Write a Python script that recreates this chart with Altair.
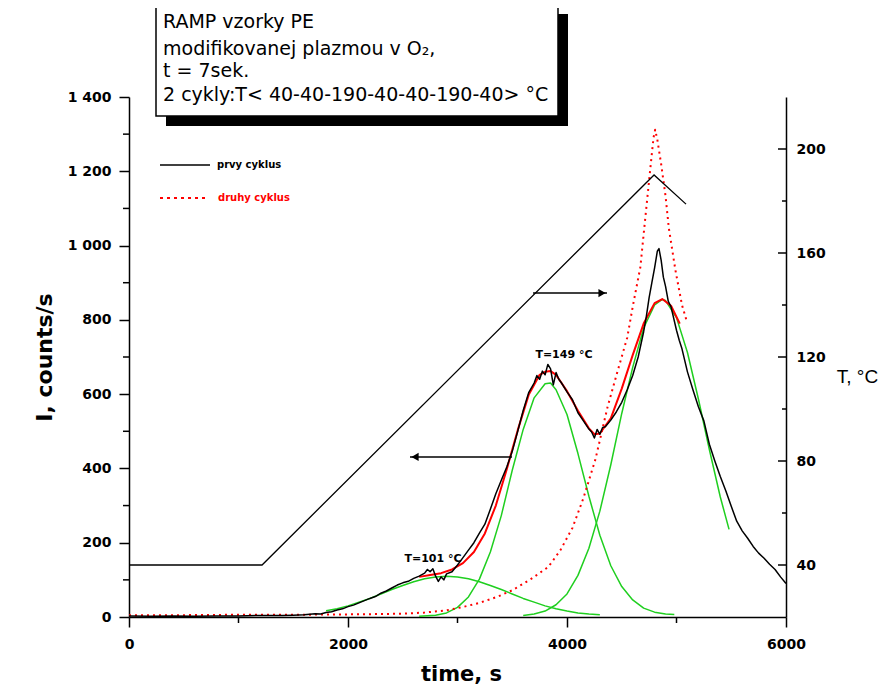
import altair as alt
import pandas as pd

# ---------------- data ----------------
# first cycle (black, measured)
time_prvy = [0, 200, 400, 600, 800, 1000, 1200, 1400, 1500, 1600, 1700, 1750, 1800, 1850, 1900, 1950,
             2000, 2050, 2100, 2150, 2200, 2250, 2300, 2350, 2400, 2450, 2500, 2550, 2600, 2650, 2700,
             2725, 2750, 2775, 2800, 2825, 2850, 2875, 2900, 2950, 3000, 3050, 3100, 3150, 3200, 3250,
             3300, 3350, 3400, 3450, 3500, 3550, 3600, 3650, 3700, 3725, 3750, 3775, 3800, 3825, 3850,
             3875, 3900, 3925, 3950, 4000, 4050, 4100, 4150, 4200, 4225, 4250, 4275, 4300, 4325, 4350,
             4400, 4450, 4500, 4550, 4600, 4650, 4700, 4725, 4750, 4775, 4800, 4825, 4840, 4860, 4880,
             4900, 4925, 4950, 5000, 5025, 5050, 5100, 5150, 5200, 5250, 5300, 5350, 5400, 5450, 5500,
             5550, 5600, 5650, 5700, 5750, 5800, 5850, 5900, 5950, 6000]
I_prvy = [3, 2, 3, 2, 3, 3, 4, 4, 5, 6, 9, 8, 12, 14, 19, 22,
          28, 32, 38, 44, 50, 55, 64, 70, 78, 86, 92, 96, 104, 110, 118,
          128, 122, 130, 110, 96, 108, 100, 116, 122, 140, 160, 180, 200, 226, 250,
          290, 332, 368, 404, 446, 500, 556, 604, 630, 650, 640, 662, 652, 680, 668,
          625, 658, 640, 630, 606, 585, 550, 528, 506, 498, 482, 505, 492, 510, 512,
          530, 552, 578, 612, 650, 700, 768, 810, 860, 900, 940, 985, 992, 960, 915,
          890, 850, 835, 772, 745, 722, 660, 612, 566, 528, 465, 420, 378, 340, 298,
          258, 232, 212, 190, 172, 158, 142, 128, 108, 90]

# second cycle (red dotted)
time_druhy = [0, 500, 1000, 1500, 2000, 2300, 2500, 2700, 2900, 3050, 3200, 3360, 3500, 3660, 3830,
              3940, 4050, 4150, 4260, 4370, 4460, 4550, 4600, 4670, 4710, 4760, 4790, 4805, 4825,
              4860, 4900, 4930, 4990, 5050, 5090]
I_druhy = [5, 5, 6, 6, 7, 8, 9, 12, 18, 27, 38, 54, 72, 100, 135,
           180, 240, 320, 425, 565, 660, 752, 835, 942, 1060, 1205, 1290, 1312, 1285,
           1219, 1133, 1047, 934, 840, 800]

# cumulative fit (red solid)
time_fit = [2650, 2750, 2850, 2950, 3050, 3150, 3250, 3350, 3450, 3550, 3650, 3750, 3800, 3850,
            3900, 3950, 4000, 4100, 4200, 4250, 4300, 4400, 4500, 4600, 4700, 4800, 4870, 4950, 5030]
I_fit = [108, 113, 118, 128, 145, 175, 225, 300, 398, 503, 598, 652, 660, 662,
         652, 630, 608, 555, 508, 492, 494, 535, 615, 705, 790, 845, 856, 838, 790]

# fitted peaks (green)
time_g1 = [1800, 1900, 2000, 2100, 2200, 2300, 2400, 2500, 2600, 2700, 2800, 2900, 3000, 3100,
           3200, 3300, 3400, 3500, 3600, 3700, 3800, 3900, 4000, 4100, 4200, 4300]
I_g1 = [17, 22, 30, 40, 50, 62, 74, 85, 95, 103, 108, 110, 108, 103,
        95, 85, 74, 62, 50, 40, 30, 22, 16, 11, 8, 6]
time_g2 = [2650, 2800, 2900, 3000, 3100, 3200, 3300, 3400, 3500, 3600, 3700, 3800, 3850, 3900,
           4000, 4100, 4200, 4300, 4400, 4500, 4600, 4700, 4800, 4900, 4980]
I_g2 = [2, 5, 11, 26, 54, 102, 175, 273, 395, 505, 590, 628, 630, 612,
        545, 440, 325, 220, 138, 82, 46, 24, 13, 8, 7]
time_g3 = [3600, 3700, 3800, 3900, 4000, 4100, 4200, 4300, 4400, 4500, 4600, 4700, 4800, 4870,
           4900, 5000, 5100, 5200, 5300, 5400, 5480]
I_g3 = [4, 8, 16, 33, 62, 112, 185, 285, 410, 548, 672, 778, 840, 855,
        852, 806, 712, 587, 451, 323, 236]

# temperature programme (right axis)
time_temp = [0, 1215, 4795, 5087]
temp_T = [40, 40, 190, 178.8]

# axis ticks
x_ticks = [0, 2000, 4000, 6000]
x_minor = [1000, 3000, 5000]
I_ticks = [0, 200, 400, 600, 800, 1000, 1200, 1400]
I_minor = [100, 300, 500, 700, 900, 1100, 1300]
T_ticks = [40, 80, 120, 160, 200]
T_minor = [60, 100, 140, 180]

# annotations
box_lines = ["RAMP vzorky PE", "modifikovanej  plazmou  v O\u2082,", "t = 7sek.",
             "2 cykly:T< 40-40-190-40-40-190-40> \u00b0C"]
legend_labels = ["prvy cyklus", "druhy cyklus"]
peak_labels = ["T=101 \u00b0C", "T=149 \u00b0C"]
peak_label_t = [2776, 3972]
peak_label_I = [155, 705]
arrow_start_t = [3498, 3690]
arrow_end_t = [2566, 4365]
arrow_I = [431, 872]
arrow_head_t = [2612, 4320]
arrow_head_shape = ["triangle-left", "triangle-right"]

# ---------------- chart ----------------
W, H = 657, 520
FONT = "DejaVu Sans"
GREEN = "#1fcf1f"
RED = "#ff0000"

x_axis = alt.Axis(values=x_ticks, tickSize=10, tickWidth=1.5, tickColor="black",
                  domainWidth=1.5, domainColor="black", grid=False,
                  labelFont=FONT, labelFontWeight="bold", labelFontSize=14, labelColor="black",
                  labelPadding=10, labelFlush=False, labelExpr="format(datum.value, 'd')",
                  title="time, s", titleFont=FONT, titleFontWeight="bold", titleFontSize=21,
                  titleColor="black", titleX=332, titleY=57, titleAlign="center",
                  titleBaseline="middle")
X = alt.X("t:Q", scale=alt.Scale(domain=[0, 6000], nice=False, zero=False), axis=x_axis)
X2 = alt.X2("t2:Q")

y_axis = alt.Axis(values=I_ticks, orient="left", tickSize=10, tickWidth=1.5, tickColor="black",
                  domainWidth=1.5, domainColor="black", grid=False,
                  labelFont=FONT, labelFontWeight="bold", labelFontSize=14, labelColor="black",
                  labelPadding=8, labelFlush=False,
                  labelExpr="replace(format(datum.value, ','), ',', ' ')",
                  title="I, counts/s", titleFont=FONT, titleFontWeight="bold", titleFontSize=22,
                  titleColor="black", titleAngle=270, titleX=-85, titleY=260,
                  titleAlign="center", titleBaseline="middle")
Y = alt.Y("I:Q", scale=alt.Scale(domain=[0, 1400], nice=False, zero=False), axis=y_axis)

t_axis = alt.Axis(values=T_ticks, orient="right", ticks=False, domainWidth=1.5,
                  domainColor="black", grid=False,
                  labelFont=FONT, labelFontWeight="bold", labelFontSize=14, labelColor="black",
                  labelPadding=10, labelFlush=False,
                  title="T, \u00b0C", titleFont="Liberation Sans", titleFontWeight="normal",
                  titleFontSize=19, titleColor="black", titleAngle=0, titleX=71, titleY=279,
                  titleAlign="center", titleBaseline="middle")
YT = alt.Y("T:Q", scale=alt.Scale(domain=[20, 220], nice=False, zero=False), axis=t_axis)


def line_layer(ts, vals, color, width, dash=None):
    df = pd.DataFrame({"t": ts, "I": vals})
    kw = dict(color=color, strokeWidth=width, strokeJoin="round")
    if dash:
        kw["strokeDash"] = dash
    return alt.Chart(df).mark_line(**kw).encode(x=X, y=Y)


one = pd.DataFrame({"k": [0]})

# minor ticks
minor_left = alt.Chart(pd.DataFrame({"I": I_minor})).mark_rule(
    color="black", strokeWidth=1.5).encode(y=Y, x=alt.value(-6), x2=alt.value(0))
minor_bottom = alt.Chart(pd.DataFrame({"t": x_minor})).mark_rule(
    color="black", strokeWidth=1.5).encode(x=X, y=alt.value(H), y2=alt.value(H + 6))

g1 = line_layer(time_g1, I_g1, GREEN, 1.5)
g2 = line_layer(time_g2, I_g2, GREEN, 1.5)
g3 = line_layer(time_g3, I_g3, GREEN, 1.5)
druhy = line_layer(time_druhy, I_druhy, RED, 2, [2, 4])
prvy = line_layer(time_prvy, I_prvy, "black", 1.5)
fit = line_layer(time_fit, I_fit, RED, 2)

arrow_df = pd.DataFrame({"t": arrow_start_t, "t2": arrow_end_t, "I": arrow_I})
arrows = alt.Chart(arrow_df).mark_rule(color="black", strokeWidth=1.5).encode(x=X, x2=X2, y=Y)
head_df = pd.DataFrame({"t": arrow_head_t, "I": arrow_I, "shape": arrow_head_shape})
heads = alt.Chart(head_df).mark_point(filled=True, color="black", size=70, opacity=1).encode(
    x=X, y=Y,
    shape=alt.Shape("shape:N", scale=alt.Scale(domain=arrow_head_shape, range=arrow_head_shape),
                    legend=None))

peak_df = pd.DataFrame({"t": peak_label_t, "I": peak_label_I, "label": peak_labels})
peak_text = alt.Chart(peak_df).mark_text(font=FONT, fontWeight="bold", fontSize=11,
                                         color="black").encode(x=X, y=Y, text="label:N")

# legend
leg_black = alt.Chart(one).mark_rule(color="black", strokeWidth=1.5).encode(
    x=alt.value(31), x2=alt.value(81), y=alt.value(68))
leg_red = alt.Chart(one).mark_rule(color=RED, strokeWidth=2, strokeDash=[3, 4]).encode(
    x=alt.value(31), x2=alt.value(76), y=alt.value(101))
leg_t1 = alt.Chart(one).mark_text(text=legend_labels[0], font=FONT, fontWeight="bold",
                                  fontSize=10, color="black", align="left",
                                  baseline="middle").encode(x=alt.value(88), y=alt.value(68))
leg_t2 = alt.Chart(one).mark_text(text=legend_labels[1], font=FONT, fontWeight="bold",
                                  fontSize=10, color=RED, align="left",
                                  baseline="middle").encode(x=alt.value(89), y=alt.value(101))

# title box
shadow = alt.Chart(one).mark_rect(color="black").encode(
    x=alt.value(37), x2=alt.value(439), y=alt.value(-83), y2=alt.value(29))
box = alt.Chart(one).mark_rect(fill="white", stroke="black", strokeWidth=1.5).encode(
    x=alt.value(27), x2=alt.value(429), y=alt.value(-93), y2=alt.value(19))
box_y = [-69, -42, -20, 4]
box_texts = [
    alt.Chart(one).mark_text(text=s, font=FONT, fontSize=19, color="black", align="left",
                             baseline="alphabetic").encode(x=alt.value(34), y=alt.value(yy))
    for s, yy in zip(box_lines, box_y)
]

left = alt.layer(minor_left, minor_bottom, g1, g2, g3, druhy, fit, prvy, arrows, heads,
                 peak_text, leg_black, leg_red, leg_t1, leg_t2, shadow, box, *box_texts)

temp_df = pd.DataFrame({"t": time_temp, "T": temp_T})
temp_line = alt.Chart(temp_df).mark_line(color="black", strokeWidth=1.3).encode(x=X, y=YT)
t_major = alt.Chart(pd.DataFrame({"T": T_ticks})).mark_rule(
    color="black", strokeWidth=1.5).encode(y=YT, x=alt.value(W - 8), x2=alt.value(W))
t_minor = alt.Chart(pd.DataFrame({"T": T_minor})).mark_rule(
    color="black", strokeWidth=1.5).encode(y=YT, x=alt.value(W - 4), x2=alt.value(W))
right = alt.layer(temp_line, t_major, t_minor)

chart = alt.layer(left, right).resolve_scale(y="independent").properties(
    width=W, height=H,
    padding={"left": 121, "top": 89, "right": 102, "bottom": 71},
    autosize=alt.AutoSizeParams(type="none"),
    background="white",
).configure_view(stroke=None)

chart.save("out.html", embed_options={"renderer": "svg", "actions": False})
